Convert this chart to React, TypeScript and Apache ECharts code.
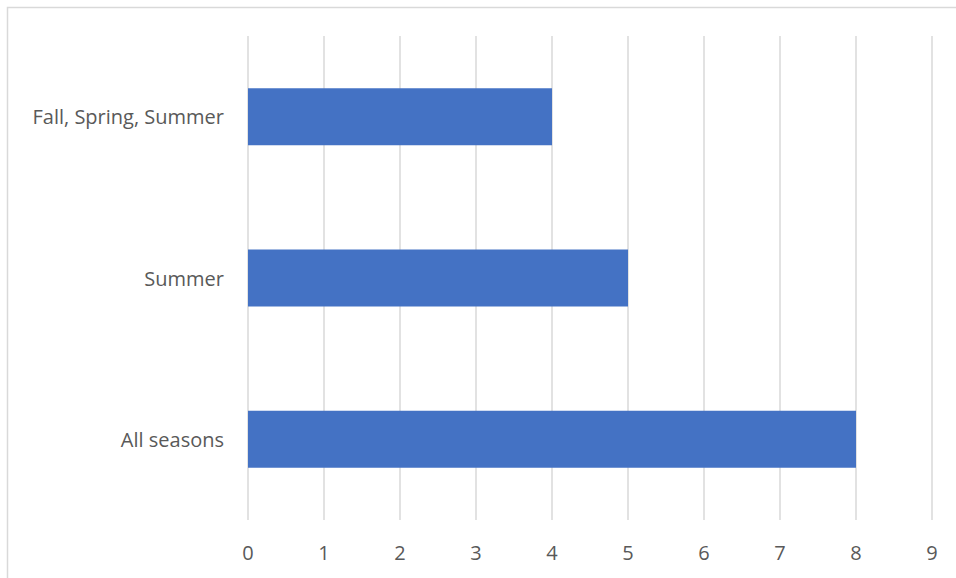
import React, { useEffect, useRef } from "react";
import * as echarts from "echarts";

const categories = ["All seasons", "Summer", "Fall, Spring, Summer"];
const values = [8, 5, 4];
const xMin = 0;
const xMax = 9;
const xInterval = 1;

export default function App() {
  const ref = useRef<HTMLDivElement>(null);
  useEffect(() => {
    if (!ref.current) return;
    const chart = echarts.init(ref.current, null, { renderer: "svg" });
    const font = "'Open Sans', 'Noto Sans', sans-serif";
    chart.setOption({
      animation: false,
      backgroundColor: "#ffffff",
      graphic: [
        {
          type: "rect",
          shape: { x: 7.5, y: 7.5, width: 1000, height: 1000 },
          style: { fill: "none", stroke: "#d9d9d9", lineWidth: 1.5 },
          silent: true,
        },
      ],
      grid: { left: 248, right: 24, top: 36, bottom: 58 },
      xAxis: {
        type: "value",
        min: xMin,
        max: xMax,
        interval: xInterval,
        axisLine: { show: false },
        axisTick: { show: false },
        axisLabel: { color: "#595959", fontSize: 20, fontFamily: font, margin: 22 },
        splitLine: { show: true, lineStyle: { color: "#d9d9d9", width: 1.5 } },
      },
      yAxis: {
        type: "category",
        data: categories,
        axisLine: { show: false },
        axisTick: { show: false },
        axisLabel: { color: "#595959", fontSize: 20, fontFamily: font, margin: 24 },
        splitLine: { show: false },
      },
      series: [
        {
          type: "bar",
          data: values,
          barWidth: 57,
          itemStyle: { color: "#4472c4" },
        },
      ],
    });
    return () => chart.dispose();
  }, []);
  return (
    <div
      ref={ref}
      style={{ position: "absolute", left: 0, top: 0, width: 956, height: 578 }}
    />
  );
}
